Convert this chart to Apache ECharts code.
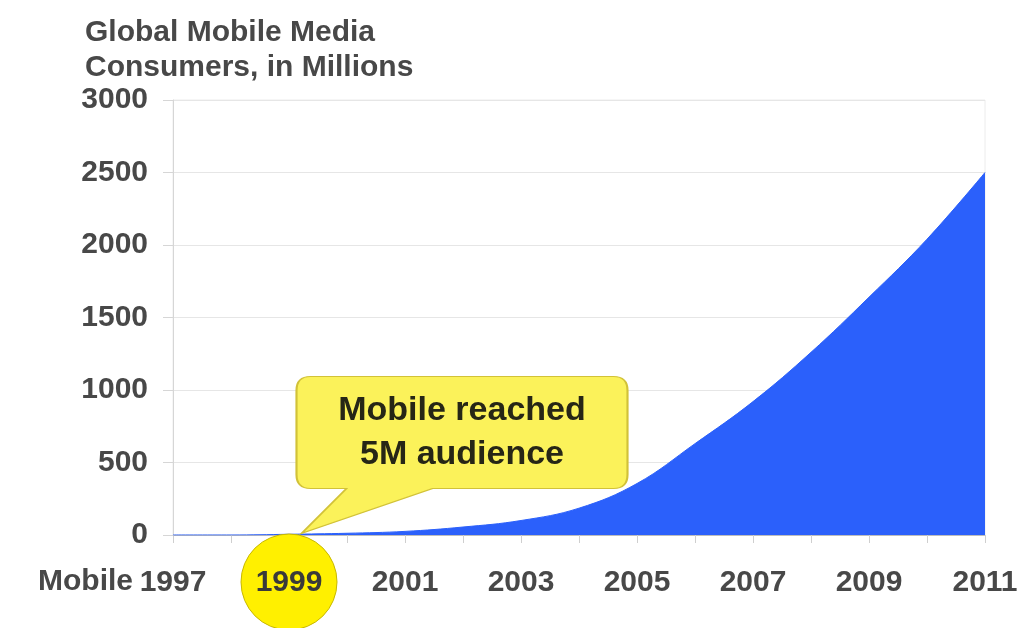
<!DOCTYPE html>
<html>
<head>
<meta charset="utf-8">
<script src="https://cdn.jsdelivr.net/npm/echarts@6/dist/echarts.min.js"></script>
<style>
  html, body { margin: 0; padding: 0; background: #fff; }
  #main { width: 1023px; height: 628px; }
</style>
</head>
<body>
<div id="main"></div>
<script>
// data
var years = ['1997', '1998', '1999', '2000', '2001', '2002', '2003', '2004',
             '2005', '2006', '2007', '2008', '2009', '2010', '2011'];
var consumers = [0, 0, 5, 12, 25, 55, 100, 185, 355, 630, 920, 1260, 1640, 2040, 2500];
var yTicks = [0, 500, 1000, 1500, 2000, 2500, 3000];
var highlightYear = '1999';
var calloutText = 'Mobile reached\n5M audience';

var font = 'Liberation Sans, Arial, sans-serif';
var textColor = '#484848';

var myChart = echarts.init(document.getElementById('main'));

// speech bubble drawn in a 331 x 157 box, tail tip at (5,157)
var bubblePath = 'path://M14,0 H317 Q331,0 331,14 V98 Q331,112 317,112 H136 L5,157 L50,112 H14 Q0,112 0,98 V14 Q0,0 14,0 Z';

option = {
	backgroundColor: '#fff',
	title: {
		text: 'Global Mobile Media\nConsumers, in Millions',
		left: 80,
		top: 10,
		textStyle: {
			color: textColor,
			fontFamily: font,
			fontSize: 30,
			lineHeight: 35,
			fontWeight: 'bold'
		}
	},
	graphic: [{
		// the word before the first year label
		type: 'text',
		right: 1023 - 133,
		top: 567,
		style: {
			text: 'Mobile',
			fill: textColor,
			font: 'bold 30px ' + font
		}
	}],
	grid: {
		left: 173,
		right: 38,
		top: 100,
		bottom: 93,
		show: true,
		borderColor: '#ececec',
		borderWidth: 1
	},
	xAxis: {
		type: 'category',
		boundaryGap: false,
		data: years,
		axisLine: {
			lineStyle: { color: '#bdbdbd', width: 1 }
		},
		axisTick: {
			show: true,
			interval: 0,
			length: 8,
			lineStyle: { color: '#cfcfcf' }
		},
		axisLabel: {
			interval: 1,
			margin: 33,
			color: textColor,
			fontFamily: font,
			fontSize: 30,
			fontWeight: 'bold'
		},
		splitLine: { show: false }
	},
	yAxis: {
		type: 'value',
		min: yTicks[0],
		max: yTicks[yTicks.length - 1],
		interval: yTicks[1] - yTicks[0],
		axisLine: {
			show: true,
			lineStyle: { color: '#d6d6d6' }
		},
		axisTick: {
			show: true,
			length: 10,
			lineStyle: { color: '#d6d6d6' }
		},
		axisLabel: {
			margin: 25,
			color: textColor,
			fontFamily: font,
			fontSize: 30,
			fontWeight: 'bold',
			formatter: function (v) { return String(v); }
		},
		splitLine: {
			lineStyle: { color: '#e6e6e6' }
		}
	},
	series: [{
		type: 'line',
		data: consumers,
		smooth: 0.4,
		symbol: 'none',
		lineStyle: { color: '#2b60fb', width: 1 },
		areaStyle: { color: '#2b60fb', opacity: 1 },
		markPoint: {
			silent: true,
			data: [{
				// yellow disc behind the year label
				coord: [highlightYear, 0],
				symbol: 'circle',
				symbolSize: 96,
				symbolOffset: [0, 47],
				itemStyle: { color: '#fff000', borderColor: '#c8b800', borderWidth: 1 },
				label: {
					show: true,
					formatter: highlightYear,
					offset: [0, 1],
					color: '#3a3a3a',
					fontFamily: font,
					fontSize: 30,
					fontWeight: 'bold'
				}
			}, {
				// callout bubble, tail tip at the 1999 point
				coord: [highlightYear, 0],
				symbol: bubblePath,
				symbolSize: [331, 157],
				symbolOffset: [173, -80],
				itemStyle: { color: '#fbf25a', borderColor: '#d2c238', borderWidth: 1.5 },
				label: {
					show: true,
					formatter: calloutText,
					offset: [0, -22],
					color: '#262616',
					fontFamily: font,
					fontSize: 34,
					fontWeight: 'bold',
					lineHeight: 44,
					align: 'center'
				}
			}]
		}
	}]
};

myChart.setOption(option);
</script>
</body>
</html>
